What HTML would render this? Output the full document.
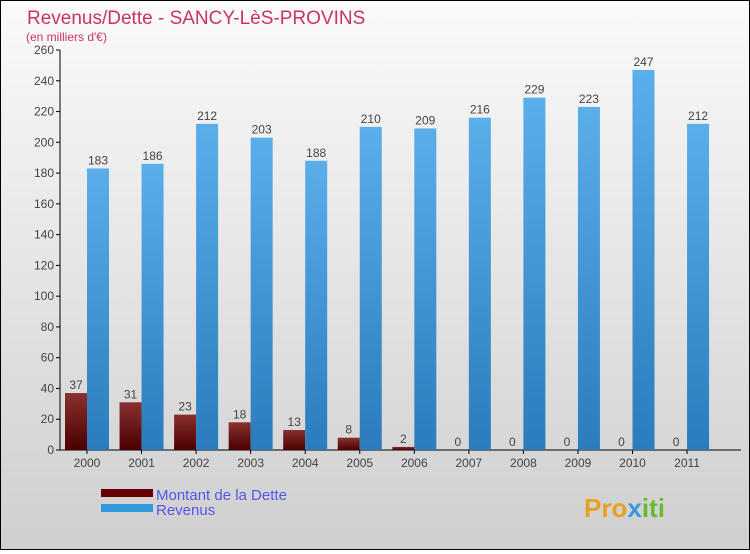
<!DOCTYPE html>
<html><head><meta charset="utf-8"><style>
body{margin:0;width:750px;height:550px;overflow:hidden;font-family:"Liberation Sans","DejaVu Sans",sans-serif}
#wrap{position:absolute;left:0;top:0;width:748px;height:548px;border:1px solid #000;background:linear-gradient(#fafafa,#cfcfcf)}
</style></head><body>
<div id="wrap">
<svg id="chart" width="748" height="548">
<defs>
<linearGradient id="gd" x1="0" y1="0" x2="0" y2="1"><stop offset="0" stop-color="#8a3030"/><stop offset="1" stop-color="#4a0000"/></linearGradient>
<linearGradient id="gr" x1="0" y1="0" x2="0" y2="1"><stop offset="0" stop-color="#5aaeea"/><stop offset="1" stop-color="#2a7cbc"/></linearGradient>
</defs>
<text x="26" y="23" font-size="19" fill="#c8336a">Revenus/Dette - SANCY-LèS-PROVINS</text>
<text x="25" y="40" font-size="12" fill="#c8336a">(en milliers d'€)</text>
<g id="axes"></g><g id="bars"></g>
<rect x="100" y="488" width="52" height="8" fill="#660000"/>
<rect x="100" y="503" width="52" height="8" fill="#3399dd"/>
<text x="155" y="499" font-size="15" fill="#5555ee">Montant de la Dette</text>
<text x="155" y="514" font-size="15" fill="#5555ee">Revenus</text>
<text x="583" y="516" font-size="26" font-weight="bold" fill="#e8a020">Pro<tspan fill="#3399dd">x</tspan><tspan fill="#66bb33">iti</tspan></text>
</svg></div>
<script>
const years=["2000","2001","2002","2003","2004","2005","2006","2007","2008","2009","2010","2011"];
const debt=[37,31,23,18,13,8,2,0,0,0,0,0];
const revenue=[183,186,212,203,188,210,209,216,229,223,247,212];
const yTicks=[0,20,40,60,80,100,120,140,160,180,200,220,240,260];
const NS="http://www.w3.org/2000/svg";
const y0=449,yTop=49,yMax=260,x0=86,step=54.55,bw=22;
const Y=v=>y0-(v/yMax)*(y0-yTop);
const X=i=>x0+i*step;
function mk(t,a,p){const e=document.createElementNS(NS,t);for(const k in a)e.setAttribute(k,a[k]);p.appendChild(e);return e;}
const ax=document.getElementById('axes'),bs=document.getElementById('bars');
const yl=mk('line',{x1:59,y1:yTop,x2:59,y2:y0,stroke:'#000'},ax);


const xl=mk('line',{x1:59,y1:y0,x2:740,y2:y0,stroke:'#000'},ax);


yTicks.forEach(v=>{
 mk('line',{x1:55,y1:Y(v),x2:59,y2:Y(v),stroke:'#000'},ax);
 const t=mk('text',{x:53,y:Y(v)+4,'font-size':12,fill:'#444','text-anchor':'end'},ax);t.textContent=v;
 
 
});
years.forEach((yr,i)=>{
 const c=X(i);
 mk('line',{x1:c,y1:y0,x2:c,y2:y0+4,stroke:'#000'},ax);
 const t=mk('text',{x:c,y:y0+17,'font-size':12,fill:'#444','text-anchor':'middle'},ax);t.textContent=yr;
 
 
 const d=mk('rect',{x:c-bw,y:Y(debt[i]),width:bw,height:y0-Y(debt[i]),fill:'url(#gd)'},bs);
 
 
 const r=mk('rect',{x:c,y:Y(revenue[i]),width:bw,height:y0-Y(revenue[i]),fill:'url(#gr)'},bs);
 
 
 const dl=mk('text',{x:c-bw/2,y:Y(debt[i])-4,'font-size':12,fill:'#444','text-anchor':'middle'},bs);dl.textContent=debt[i];
 
 
 const rl=mk('text',{x:c+bw/2,y:Y(revenue[i])-4,'font-size':12,fill:'#444','text-anchor':'middle'},bs);rl.textContent=revenue[i];
 
 
});
</script>
</body></html>
